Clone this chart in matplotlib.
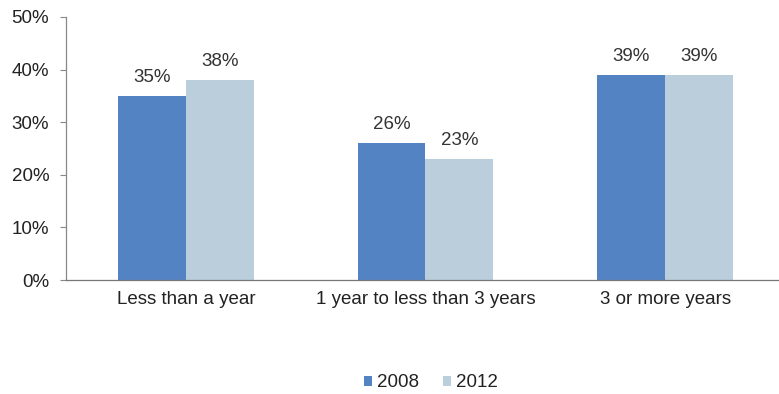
import matplotlib

matplotlib.use("Agg")
import matplotlib.pyplot as plt
import numpy as np

categories = ["Less than a year", "1 year to less than 3 years", "3 or more years"]
years = ["2008", "2012"]
values_2008 = [35, 26, 39]
values_2012 = [38, 23, 39]

plt.rcParams["font.family"] = ["Liberation Sans", "DejaVu Sans"]
FS = 13.5

fig = plt.figure(figsize=(7.79, 3.94), dpi=100)
ax = fig.add_axes([0.0847, 0.2893, 0.9153, 0.6676])

x = np.arange(len(categories))
w = 0.283
colors = ["#5383c2", "#bacfdb"]
for i, (vals, c, lab) in enumerate(zip([values_2008, values_2012], colors, years)):
    pos = x + (i - 0.5) * w
    ax.bar(pos, vals, width=w, color=c, label=lab, edgecolor="none")
    for p, v in zip(pos, vals):
        ax.text(p, v + 1.9, f"{v}%", ha="center", va="bottom", fontsize=FS, color="#333333")

ax.set_xlim(-0.5, 2.475)
ax.set_ylim(0, 50)
ax.set_yticks(np.arange(0, 51, 10))
ax.set_yticklabels([f"{t}%" for t in range(0, 51, 10)])
ax.set_xticks(x)
ax.set_xticklabels(categories)
ax.tick_params(axis="x", length=0, pad=8, labelsize=FS, labelcolor="#222222")
ax.tick_params(axis="y", length=4, width=0.8, color="#888888", pad=8, labelsize=FS, labelcolor="#222222")
for s in ["top", "right"]:
    ax.spines[s].set_visible(False)
ax.spines["left"].set_color("#888888")
ax.spines["bottom"].set_color("#777777")
ax.spines["left"].set_linewidth(0.9)
ax.spines["bottom"].set_linewidth(0.9)

fig.legend(loc="center", bbox_to_anchor=(0.553, 0.028), ncol=2, frameon=False,
           fontsize=FS, handlelength=0.45, handleheight=0.45, handletextpad=0.25,
           columnspacing=1.3, labelcolor="#222222")

fig.savefig("out.png", dpi=100)
